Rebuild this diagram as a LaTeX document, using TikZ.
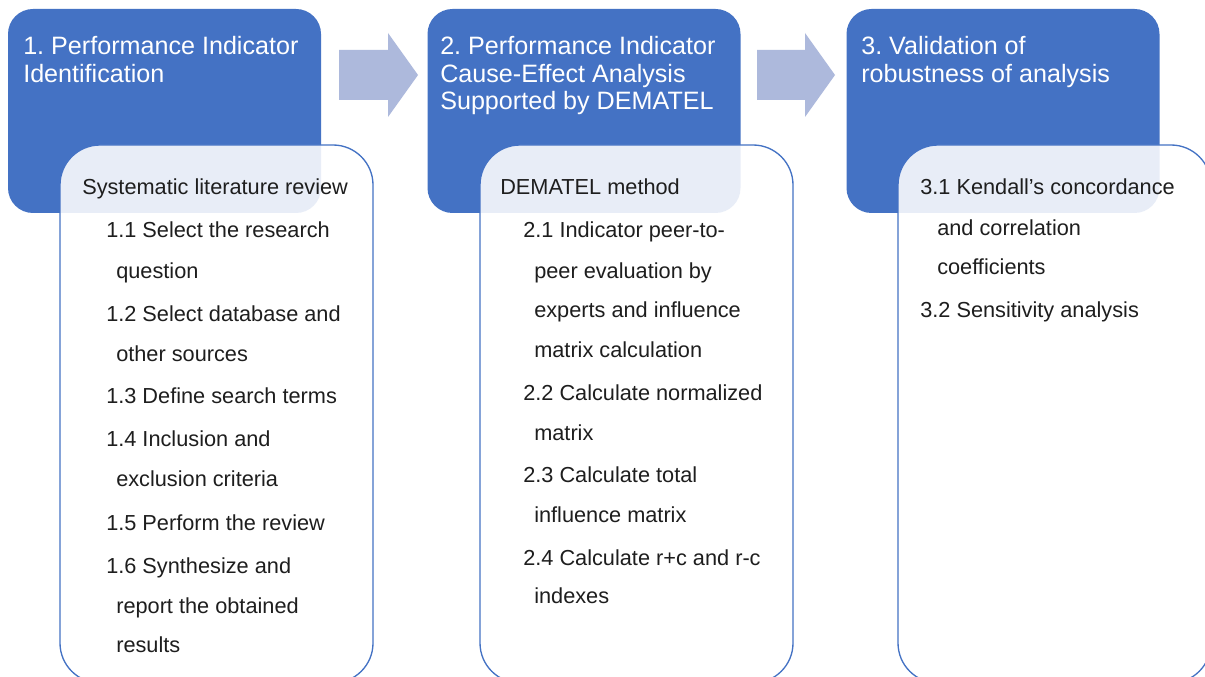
\documentclass[tikz,border=0pt]{standalone}
\usepackage{fontspec}
\setmainfont{Liberation Sans}
\frenchspacing
\definecolor{pblue}{HTML}{4472C4}
\definecolor{parrow}{HTML}{ADB9DC}
\definecolor{ptext}{HTML}{1E1E1E}
\tikzset{
  stagebox/.style={draw=none, fill=pblue, rounded corners=18.75pt, minimum width=234.75pt, minimum height=153pt, inner sep=0pt},
  detailbox/.style={draw=pblue, line width=1pt, fill=white, fill opacity=0.88, rounded corners=30pt, minimum width=234.75pt, minimum height=403.5pt, inner sep=0pt},
  blockarrow/.style={fill=parrow, draw=none},
  titletxt/.style={anchor=base west, inner sep=0pt, text=white, font=\fontsize{18.85pt}{21pt}\selectfont},
  bodytxt/.style={anchor=base west, inner sep=0pt, text=ptext, font=\fontsize{16.3pt}{19pt}\selectfont}
}
\begin{document}
\begin{tikzpicture}[x=0.75pt,y=-0.75pt]
\useasboundingbox (0,0) rectangle (1205,677);
\fill[white] (0,0) rectangle (1205,677);
% stage boxes
\node[stagebox] (s1) at (164.5,111) {};
\node[stagebox] (s2) at (584,111) {};
\node[stagebox] (s3) at (1003,111) {};
% block arrows
\fill[blockarrow] (339,50) coordinate (a1) -- (388,50) -- (388,33) -- (418,75) -- (388,117) -- (388,100) -- (339,100) -- cycle;
\fill[blockarrow] (757,50) coordinate (a2) -- (805,50) -- (805,33) -- (835,75) -- (805,117) -- (805,100) -- (757,100) -- cycle;
% detail boxes
\node[detailbox] (d1) at (216.5,414) {};
\node[detailbox] (d2) at (636.5,414) {};
\node[detailbox] (d3) at (1054.5,414) {};
% titles
\node[titletxt] (t1a) at (23,55) {1. Performance Indicator};
\node[titletxt] (t1b) at (23,82.5) {Identification};
\node[titletxt] (t2a) at (440,55) {2. Performance Indicator};
\node[titletxt] (t2b) at (440,82.5) {Cause-Effect Analysis};
\node[titletxt] (t2c) at (440,110) {Supported by DEMATEL};
\node[titletxt] (t3a) at (861,55) {3. Validation of};
\node[titletxt] (t3b) at (861,82.5) {robustness of analysis};
% box 1 text
\node[bodytxt] (b1h) at (82,195) {Systematic literature review};
\node[bodytxt] (b11) at (106,238) {1.1 Select the research};
\node[bodytxt] (b11b) at (116,278) {question};
\node[bodytxt] (b12) at (106,321.5) {1.2 Select database and};
\node[bodytxt] (b12b) at (116,361.5) {other sources};
\node[bodytxt] (b13) at (106,403.5) {1.3 Define search terms};
\node[bodytxt] (b14) at (106,446.5) {1.4 Inclusion and};
\node[bodytxt] (b14b) at (116,486.5) {exclusion criteria};
\node[bodytxt] (b15) at (106,530) {1.5 Perform the review};
\node[bodytxt] (b16) at (106,573) {1.6 Synthesize and};
\node[bodytxt] (b16b) at (116,613) {report the obtained};
\node[bodytxt] (b16c) at (116,652) {results};
% box 2 text
\node[bodytxt] (b2h) at (500,195) {DEMATEL method};
\node[bodytxt] (b21) at (523,238) {2.1 Indicator peer-to-};
\node[bodytxt] (b21b) at (534,278) {peer evaluation by};
\node[bodytxt] (b21c) at (534,317) {experts and influence};
\node[bodytxt] (b21d) at (534,357) {matrix calculation};
\node[bodytxt] (b22) at (523,400) {2.2 Calculate normalized};
\node[bodytxt] (b22b) at (534,440) {matrix};
\node[bodytxt] (b23) at (523,482) {2.3 Calculate total};
\node[bodytxt] (b23b) at (534,522) {influence matrix};
\node[bodytxt] (b24) at (523,565) {2.4 Calculate r+c and r-c};
\node[bodytxt] (b24b) at (534,603.5) {indexes};
% box 3 text
\node[bodytxt] (b31) at (920,195) {3.1 Kendall’s concordance};
\node[bodytxt] (b31b) at (937,235) {and correlation};
\node[bodytxt] (b31c) at (937,274) {coefficients};
\node[bodytxt] (b32) at (920,317) {3.2 Sensitivity analysis};
\end{tikzpicture}
\end{document}
